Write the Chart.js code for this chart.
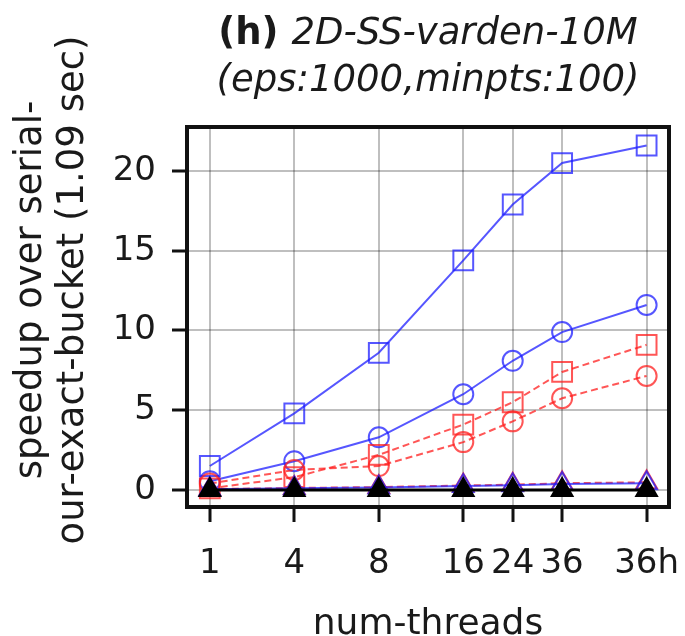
<!DOCTYPE html>
<html>
<head>
<meta charset="utf-8">
<script src="https://cdn.jsdelivr.net/npm/chart.js@4/dist/chart.umd.min.js"></script>
<style>
  body { margin: 0; background: #fff; }
</style>
</head>
<body>
<canvas id="chart" width="685" height="636"></canvas>
<script>
// thread counts on the x axis; threadPos is where each sits on the (log-ish) axis
const threadLabels = ['1', '4', '8', '16', '24', '36', '36h'];
const threadPos = [0, 1, 2, 3, 3.585, 4.17, 5.17];
const yTickValues = [0, 5, 10, 15, 20];

// speedup values
const blueSquares = [1.5, 4.8, 8.6, 14.4, 17.9, 20.5, 21.6];
const blueCircles = [0.55, 1.8, 3.3, 6.0, 8.1, 9.9, 11.6];
const redSquares = [0.1, 0.8, 2.2, 4.1, 5.5, 7.4, 9.1];
const redCircles = [0.4, 1.25, 1.5, 3.0, 4.3, 5.75, 7.15];
const blueTriangles = [0.05, 0.1, 0.15, 0.25, 0.3, 0.38, 0.42];
const redTriangles = [0.05, 0.12, 0.18, 0.28, 0.33, 0.42, 0.48];
const blackTriangles = [0.0, 0.0, 0.0, 0.0, 0.0, 0.0, 0.0];

const FONT = '"DejaVu Sans", sans-serif';
const BLUE = 'rgba(30, 30, 255, 0.75)';
const RED = 'rgba(255, 30, 30, 0.75)';

const toPoints = (vals) => vals.map((v, i) => ({ x: threadPos[i], y: v }));

function series(label, vals, color, style, radius, dashed, filled, width = 2) {
    return {
        label,
        data: toPoints(vals),
        borderColor: color,
        backgroundColor: filled ? color : 'rgba(0,0,0,0)',
        borderWidth: width,
        borderDash: dashed ? [7, 4] : [],
        pointStyle: style,
        pointRadius: radius,
        pointBorderColor: color,
        pointBackgroundColor: filled ? color : 'rgba(0,0,0,0)',
        pointBorderWidth: 2,
        tension: 0,
    };
}

const frameAndText = {
    id: 'frameAndText',
    afterDraw(chart) {
        const { ctx, chartArea: a } = chart;
        ctx.save();
        ctx.strokeStyle = '#111';
        ctx.lineWidth = 4;
        ctx.strokeRect(a.left, a.top, a.right - a.left, a.bottom - a.top);

        ctx.fillStyle = '#1a1a1a';
        ctx.textBaseline = 'middle';

        // title, first line mixes bold and italic
        const boldPart = '(h) ';
        const italPart = '2D-SS-varden-10M';
        ctx.font = 'bold 37px ' + FONT;
        const wb = ctx.measureText(boldPart).width;
        ctx.font = 'italic 37px ' + FONT;
        const wi = ctx.measureText(italPart).width;
        const cx = (a.left + a.right) / 2;
        let x0 = cx - (wb + wi) / 2;
        ctx.textAlign = 'left';
        ctx.font = 'bold 37px ' + FONT;
        ctx.fillText(boldPart, x0, 34);
        ctx.font = 'italic 37px ' + FONT;
        ctx.fillText(italPart, x0 + wb, 34);
        ctx.textAlign = 'center';
        ctx.fillText('(eps:1000,minpts:100)', cx, 81);

        // y axis title, two rotated lines
        ctx.font = '37px ' + FONT;
        ctx.translate(31, 290);
        ctx.rotate(-Math.PI / 2);
        ctx.fillText('speedup over serial-', 0, 0);
        ctx.fillText('our-exact-bucket (1.09 sec)', 0, 42);
        ctx.restore();
    }
};

new Chart(document.getElementById('chart'), {
    type: 'line',
    data: {
        datasets: [
            series('serial', blackTriangles, '#000', 'triangle', 12, false, true, 3),
            series('blue-tri', blueTriangles, BLUE, 'triangle', 12, false, false),
            series('red-tri', redTriangles, RED, 'triangle', 12, true, false),
            series('red-circ', redCircles, RED, 'circle', 10, true, false),
            series('red-sq', redSquares, RED, 'rect', 14, true, false),
            series('blue-circ', blueCircles, BLUE, 'circle', 10, false, false),
            series('blue-sq', blueSquares, BLUE, 'rect', 14, false, false),
        ],
    },
    options: {
        responsive: false,
        devicePixelRatio: 1,
        animation: false,
        layout: { padding: { top: 127, right: 13, left: 0, bottom: 0 } },
        plugins: {
            legend: { display: false },
            tooltip: { enabled: false },
        },
        scales: {
            x: {
                type: 'linear',
                min: -0.27,
                max: 5.435,
                afterBuildTicks: (scale) => {
                    scale.ticks = threadPos.map((v) => ({ value: v }));
                },
                afterFit: (scale) => {
                    scale.height = 129;
                    scale.paddingLeft = 0;
                    scale.paddingRight = 0;
                },
                ticks: {
                    autoSkip: false,
                    maxRotation: 0,
                    color: '#1a1a1a',
                    font: { family: FONT, size: 34 },
                    padding: 22,
                    callback: (v, i) => threadLabels[i],
                },
                grid: {
                    color: 'rgba(0,0,0,0.25)',
                    lineWidth: 2,
                    tickColor: '#111',
                    tickWidth: 3,
                    tickLength: 15,
                },
                border: { display: false },
                title: {
                    display: true,
                    text: 'num-threads',
                    color: '#1a1a1a',
                    font: { family: FONT, size: 36 },
                    padding: { top: 0, bottom: -10 },
                },
            },
            y: {
                min: -1.07,
                max: 22.76,
                afterBuildTicks: (scale) => {
                    scale.ticks = yTickValues.map((v) => ({ value: v }));
                },
                afterFit: (scale) => {
                    scale.width = 187;
                    scale.paddingTop = 0;
                    scale.paddingBottom = 0;
                },
                ticks: {
                    color: '#1a1a1a',
                    font: { family: FONT, size: 34 },
                    padding: 16,
                },
                grid: {
                    color: 'rgba(0,0,0,0.25)',
                    lineWidth: 2,
                    tickColor: '#111',
                    tickWidth: 3,
                    tickLength: 15,
                },
                border: { display: false },
            },
        },
    },
    plugins: [frameAndText],
});
</script>
</body>
</html>
